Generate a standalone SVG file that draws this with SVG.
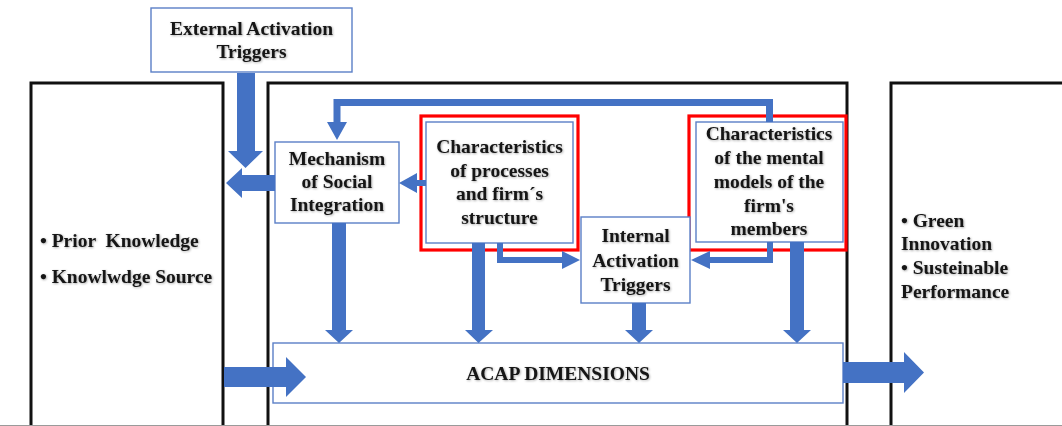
<svg xmlns="http://www.w3.org/2000/svg" width="1062" height="426" viewBox="0 0 1062 426">
<style>
.frame{fill:none;stroke:#111;stroke-width:3}
.box{fill:#fff;stroke:#5b7fc7;stroke-width:1.4}
.red{fill:#fff;stroke:#ff0000;stroke-width:3.2}
.arr{fill:#4472c4}
text{font-family:"Liberation Serif","Times New Roman",serif;font-weight:bold;font-size:19.5px;fill:#141414;filter:url(#sh)}
.c{text-anchor:middle}
.pre{white-space:pre}
</style>
<defs>
<filter id="sh" x="-10%" y="-30%" width="120%" height="160%">
<feDropShadow dx="0.8" dy="0.8" stdDeviation="0.8" flood-color="#000" flood-opacity="0.35"/>
</filter>
</defs>
<rect width="1062" height="426" fill="#fff"/>
<g id="frames">
<rect id="prior" class="frame" x="31" y="83" width="192" height="370"/>
<rect id="process" class="frame" x="268" y="83" width="579" height="370"/>
<rect id="outcome" class="frame" x="891" y="83" width="220" height="370"/>
<line x1="0" y1="425.5" x2="1062" y2="425.5" stroke="#9a9a9a" stroke-width="1"/>
</g>
<g id="prior-text">
<text x="40" y="247" class="pre">• Prior  Knowledge</text>
<text x="40" y="283">• Knowlwdge Source</text>
</g>
<g id="outcome-text">
<text x="901" y="227">• Green</text>
<text x="901" y="250">Innovation</text>
<text x="901" y="274">• Susteinable</text>
<text x="901" y="298">Performance</text>
</g>
<g id="external">
<rect class="box" x="151" y="8" width="201" height="64"/>
<text class="c" x="251.5" y="35">External Activation</text>
<text class="c" x="251.5" y="58">Triggers</text>
</g>
<g id="mechanism">
<rect class="box" x="275" y="142" width="124" height="81"/>
<text class="c" x="337" y="165">Mechanism</text>
<text class="c" x="337" y="188">of Social</text>
<text class="c" x="337" y="211">Integration</text>
</g>
<g id="char-processes">
<rect class="red" x="421" y="116" width="157" height="134"/>
<rect class="box" x="426" y="122" width="147" height="121"/>
<text class="c" x="499.5" y="153">Characteristics</text>
<text class="c" x="499.5" y="177">of processes</text>
<text class="c" x="499.5" y="200">and firm´s</text>
<text class="c" x="499.5" y="224">structure</text>
</g>
<g id="char-mental">
<rect class="red" x="689" y="116" width="157" height="134"/>
<rect class="box" x="696" y="122" width="147" height="120"/>
<text class="c" x="769" y="140">Characteristics</text>
<text class="c" x="769" y="164">of the mental</text>
<text class="c" x="769" y="188">models of the</text>
<text class="c" x="769" y="212">firm's</text>
<text class="c" x="769" y="235">members</text>
</g>
<g id="internal">
<rect class="box" x="581" y="217" width="109" height="86"/>
<text class="c" x="635.5" y="242">Internal</text>
<text class="c" x="635.5" y="267">Activation</text>
<text class="c" x="635.5" y="291">Triggers</text>
</g>
<g id="acap">
<rect class="box" x="273" y="343" width="570" height="60"/>
<text class="c" x="558" y="380">ACAP DIMENSIONS</text>
</g>
<g id="connectors">
<polygon class="arr" points="237,73 255,73 255,151 263,151 245.5,168 228,151 237,151"/>
<polygon class="arr" points="275,175 242,175 242,168 226,183 242,198 242,191 275,191"/>
<polygon class="arr" points="766,122 766,106 340.5,106 340.5,122 347,122 337,140 327,122 333.5,122 333.5,99 773,99 773,122"/>
<polygon class="arr" points="426,180 417,180 417,173 399,183 417,193 417,186 426,186"/>
<polygon class="arr" points="332,223 346,223 346,330 353,330 339,343 325,330 332,330"/>
<polygon class="arr" points="472,243 485,243 485,330 493,330 478.5,343 465,330 472,330"/>
<polygon class="arr" points="632,303 646,303 646,330 653,330 639,343 625,330 632,330"/>
<polygon class="arr" points="790,242 804,242 804,330 811,330 797,343 783,330 790,330"/>
<polygon class="arr" points="497,243 503,243 503,257 562,257 562,251 580,260 562,269 562,263 497,263"/>
<polygon class="arr" points="773,242 773,263 710,263 710,269 691,260 710,251 710,257 767,257 767,242"/>
<polygon class="arr" points="224,367 286,367 286,357 306,377 286,397 286,387 224,387"/>
<polygon class="arr" points="843,362 904,362 904,352 924,372.5 904,393 904,383 843,383"/>
</g>
</svg>
